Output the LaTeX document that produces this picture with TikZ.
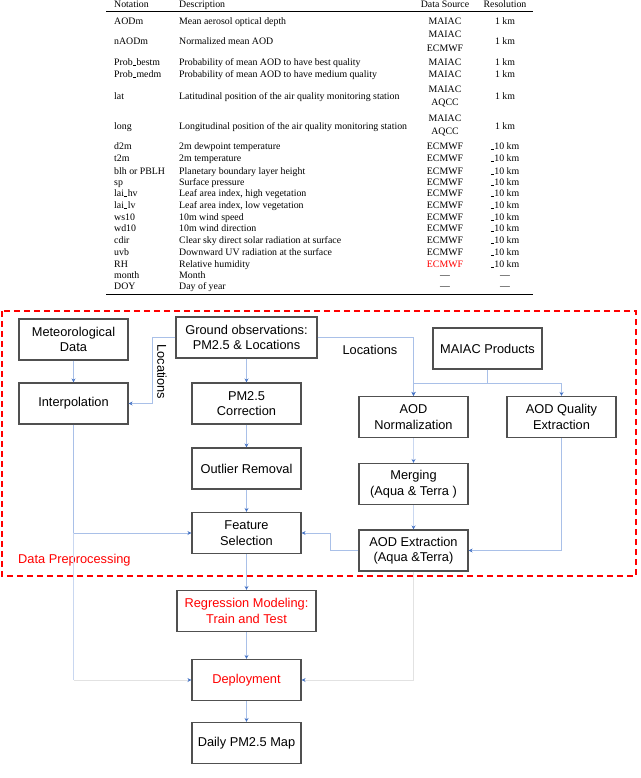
\documentclass[tikz,border=0pt]{standalone}
\usepackage{fontspec}
\setmainfont{Liberation Serif}
\newfontfamily\sansfam{Liberation Sans}
\usetikzlibrary{arrows.meta}

\definecolor{linkblue}{HTML}{A9C0E8}
\definecolor{paleblue}{HTML}{C9D7F0}
\definecolor{tipblue}{HTML}{4472C4}
\definecolor{faintgray}{HTML}{E2E2E2}
\definecolor{boxgray}{HTML}{505050}

\newcommand\lowbar{\kern0.03em\rule[-0.12ex]{0.32em}{0.06em}\kern0.03em}
\newcommand\tenkm{\lowbar 10 km}

% one-line table row: y, notation, description, source, resolution
\newcommand\trow[5]{%
  \node[cell]  (n#1) at (114,#1) {#2};
  \node[cell]  (d#1) at (179,#1) {#3};
  \node[ccell] (s#1) at (445,#1) {#4};
  \node[ccell] (r#1) at (505,#1) {#5};}
% row with two-line source: y, y1, y2, notation, description, src1, src2, resolution
\newcommand\trowtwo[8]{%
  \node[cell]  (n#1) at (114,#1) {#4};
  \node[cell]  (d#1) at (179,#1) {#5};
  \node[ccell] (s#1a) at (445,#2) {#6};
  \node[ccell] (s#1b) at (445,#3) {#7};
  \node[ccell] (r#1) at (505,#1) {#8};}

\begin{document}
\begin{tikzpicture}[x=1pt,y=-1pt,
  cell/.style={inner sep=0pt, anchor=west, text height=0.7em, text depth=0.22em,
               font=\fontsize{9.85}{11}\selectfont},
  ccell/.style={cell, anchor=center},
  proc/.style={draw=boxgray, line width=1.1pt, minimum width=109pt, minimum height=41pt,
               align=center, inner sep=1pt, font=\sansfam\fontsize{12.8}{15.5}\selectfont},
  lbl/.style={inner sep=0pt, font=\sansfam\fontsize{12.8}{15.5}\selectfont},
  tip/.style={-{Stealth[length=4pt,width=4pt,color=tipblue]}},
  link/.style={draw=linkblue, line width=0.9pt, tip},
  plainlink/.style={draw=linkblue, line width=0.9pt},
  palelink/.style={draw=paleblue, line width=0.9pt},
  faintlink/.style={draw=faintgray, line width=0.9pt},
  region/.style={draw=red, line width=2pt, dash pattern=on 6pt off 4pt}
]
\useasboundingbox (0,0) rectangle (640,778);

% ---------------- table ----------------
\node[cell]  (hn) at (114,5) {Notation};
\node[cell]  (hd) at (179,5) {Description};
\node[ccell] (hs) at (445,5) {Data Source};
\node[ccell] (hr) at (505,5) {Resolution};
\draw[line width=1pt] (106,12) -- (533,12);

\trow{22}{AODm}{Mean aerosol optical depth}{MAIAC}{1 km}
\trowtwo{42}{35}{49}{nAODm}{Normalized mean AOD}{MAIAC}{ECMWF}{1 km}
\trow{63}{Prob\lowbar bestm}{Probability of mean AOD to have best quality}{MAIAC}{1 km}
\trow{75}{Prob\lowbar medm}{Probability of mean AOD to have medium quality}{MAIAC}{1 km}
\trowtwo{97}{90}{103}{lat}{Latitudinal position of the air quality monitoring station}{MAIAC}{AQCC}{1 km}
\trowtwo{127}{119}{132}{long}{Longitudinal position of the air quality monitoring station}{MAIAC}{AQCC}{1 km}
\trow{147}{d2m}{2m dewpoint temperature}{ECMWF}{\tenkm}
\trow{159}{t2m}{2m temperature}{ECMWF}{\tenkm}
\trow{172}{blh or PBLH}{Planetary boundary layer height}{ECMWF}{\tenkm}
\trow{183}{sp}{Surface pressure}{ECMWF}{\tenkm}
\trow{194}{lai\lowbar hv}{Leaf area index, high vegetation}{ECMWF}{\tenkm}
\trow{206}{lai\lowbar lv}{Leaf area index, low vegetation}{ECMWF}{\tenkm}
\trow{218}{ws10}{10m wind speed}{ECMWF}{\tenkm}
\trow{229}{wd10}{10m wind direction}{ECMWF}{\tenkm}
\trow{241}{cdir}{Clear sky direct solar radiation at surface}{ECMWF}{\tenkm}
\trow{253}{uvb}{Downward UV radiation at the surface}{ECMWF}{\tenkm}
\trow{265}{RH}{Relative humidity}{\textcolor{red}{ECMWF}}{\tenkm}
\trow{276}{month}{Month}{---}{---}
\trow{287}{DOY}{Day of year}{---}{---}
\draw[line width=0.8pt] (106,294) -- (533,294);

% ---------------- flowchart ----------------
\draw[region] (2,311) rectangle (636,576);
\node[lbl, anchor=west, text=red] (dp) at (18,560) {Data Preprocessing};

\node[proc] (met)    at (73.5,339.5) {Meteorological\\Data};
\node[proc] (interp) at (73.5,403.5) {Interpolation};
\node[proc, minimum width=141pt] (ground) at (246.5,337.5) {Ground observations:\\PM2.5 \& Locations};
\node[proc] (corr)   at (246.5,403.5) {PM2.5\\Correction};
\node[proc] (outl)   at (246.5,468.5) {Outlier Removal};
\node[proc] (feat)   at (246.5,533) {Feature\\Selection};
\node[proc] (maiac)  at (487.5,348.5) {MAIAC Products};
\node[proc] (norm)   at (413.5,417) {AOD\\Normalization};
\node[proc] (qual)   at (561.5,417) {AOD Quality\\Extraction};
\node[proc] (merg)   at (413.5,484) {Merging\\(Aqua \& Terra )};
\node[proc] (ext)    at (413.5,550.5) {AOD Extraction\\(Aqua \&Terra)};
\node[proc, minimum width=139pt, text=red] (reg) at (246.5,611) {Regression Modeling:\\Train and Test};
\node[proc, text=red] (dep) at (246.5,680) {Deployment};
\node[proc] (map)    at (246.5,743) {Daily PM2.5 Map};

\node[lbl, rotate=-90] (locl) at (162,372) {Locations};
\node[lbl] (locr) at (370,350) {Locations};

% connectors
\draw[link] (met) -- (interp);
\draw[link] (ground.west) -- ++(-23,0) |- (interp.east);
\draw[link] (ground.east) -| (norm.north);
\draw[plainlink] (maiac.south) -- ++(0,14) coordinate (mj);
\draw[link] (mj) -| (norm.north);
\draw[link] (mj) -| (qual.north);
\draw[link] (ground) -- (corr);
\draw[link] (corr) -- (outl);
\draw[link] (outl) -- (feat);
\coordinate (ij) at (interp.south |- feat.west);
\draw[link] (interp.south) -- (ij) -- (feat.west);
\coordinate (id) at (interp.south |- dep.west);
\draw[palelink] (ij) -- (id);
\draw[faintlink, tip] (id) -- (dep.west);
\draw[link, draw=paleblue] (norm) -- (merg);
\draw[link, draw=paleblue] (merg) -- (ext);
\draw[link] (qual.south) |- (ext.east);
\draw[link] (ext.west) -- ++(-28,0) |- (feat.east);
\draw[faintlink, tip] (ext.south) |- (dep.east);
\draw[link] (feat) -- (reg);
\draw[link] (reg) -- (dep);
\draw[link] (dep) -- (map);
\end{tikzpicture}
\end{document}
